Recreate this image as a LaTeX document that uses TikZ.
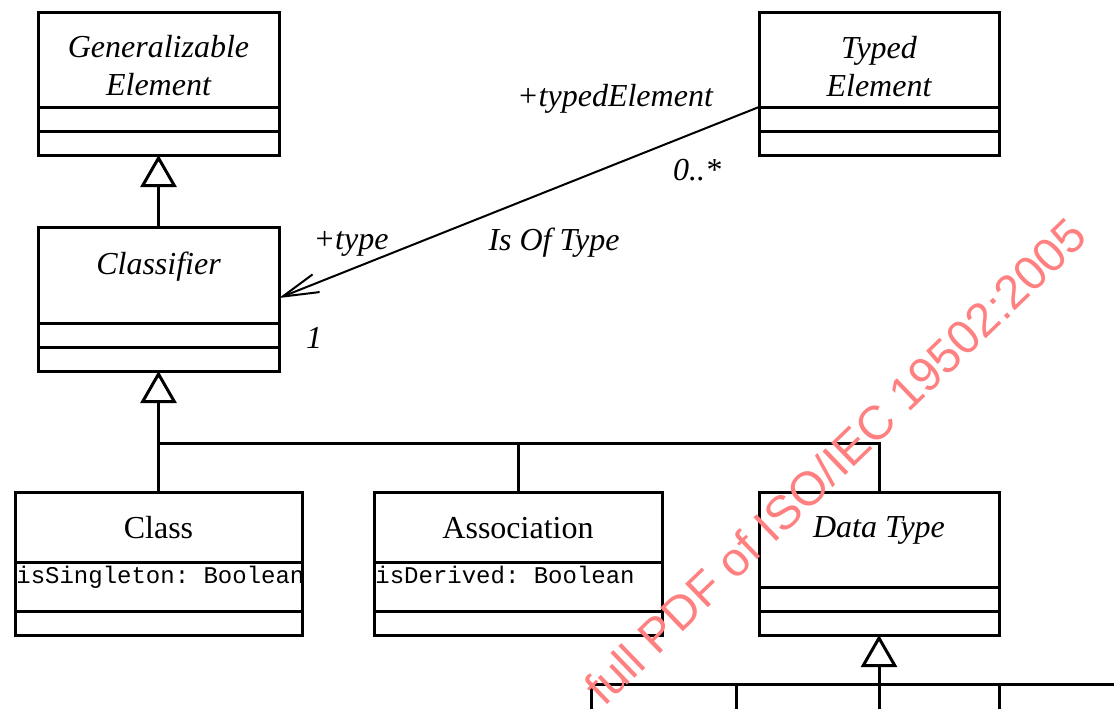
\documentclass[tikz,border=0pt]{standalone}
\usepackage{fontspec}
\setmainfont{Liberation Serif}
\setsansfont{Liberation Sans}
\setmonofont{Liberation Mono}
\usetikzlibrary{arrows.meta,positioning,calc}
\definecolor{umlblack}{RGB}{0,0,0}
\definecolor{stampred}{RGB}{255,128,128}

\begin{document}
\begin{tikzpicture}[
  x=0.5pt, y=-0.5pt,
  node distance=0pt,
  classbox/.style={
    draw=umlblack,
    line width=1.5pt,
    outer sep=0pt,
    inner sep=0pt
  },
  compart/.style={classbox, minimum height=12pt},
  cname/.style={font=\fontsize{16}{19}\selectfont\itshape, align=center},
  cplain/.style={font=\fontsize{16}{19}\selectfont},
  attr/.style={font=\fontsize{12}{14}\selectfont\ttfamily, anchor=north west, inner sep=0pt},
  role/.style={font=\fontsize{16}{19}\selectfont\itshape},
  gen/.style={-{Triangle[open, length=16pt, width=18pt]}, line width=1.5pt, draw=umlblack},
  line/.style={line width=1.5pt, draw=umlblack},
  assoc/.style={-{Straight Barb[length=18pt, width=9.5pt]}, line width=1pt, draw=umlblack},
  stamp/.style={font=\fontsize{23.8}{28}\selectfont\sffamily, text=stampred, inner sep=0pt}
]
\useasboundingbox (0,0) rectangle (1114,708);
\clip (0,0) rectangle (1114,708);

% Generalizable Element
\node[classbox, minimum width=120.5pt, minimum height=47.5pt] (ge) at (158.5,59.5) {};
\node[compart, minimum width=120.5pt, below=of ge] (ge-a) {};
\node[compart, minimum width=120.5pt, below=of ge-a] (ge-o) {};
\node[cname] (ge-name) at (158.5,66) {Generalizable\\Element};

% Classifier
\node[classbox, minimum width=120.5pt, minimum height=48pt] (cf) at (158.5,275) {};
\node[compart, minimum width=120.5pt, below=of cf] (cf-a) {};
\node[compart, minimum width=120.5pt, below=of cf-a] (cf-o) {};
\node[cname] (cf-name) at (158.5,267) {Classifier};
\draw[gen] (cf.north) -- (ge-o.south);

% Typed Element
\node[classbox, minimum width=120pt, minimum height=47.5pt] (te) at (879,59.5) {};
\node[compart, minimum width=120pt, below=of te] (te-a) {};
\node[compart, minimum width=120pt, below=of te-a] (te-o) {};
\node[cname] (te-name) at (879,67) {Typed\\Element};

% Is Of Type association
\coordinate (cf-end) at ($(cf.east)+(0,23)$);
\draw[assoc] (te.south west) -- (cf-end);
\node[role] (te-role) at (615,99) {+typedElement};
\node[role] (te-mult) at (697,170) {0..*};
\node[role] (cf-role) at (351,244) {+type};
\node[role] (cf-mult) at (314,338) {1};
\node[role] (assoc-name) at (554,243) {Is Of Type};

% Class
\node[classbox, minimum width=143.5pt, minimum height=35pt] (cl) at (158.5,527) {};
\node[classbox, minimum width=143.5pt, minimum height=24.5pt, below=of cl] (cl-a) {};
\node[compart, minimum width=143.5pt, below=of cl-a] (cl-o) {};
\node[cplain] (cl-name) at (158.5,528) {Class};
\node[attr] (cl-attr) at ($(cl-a.north west)+(1,4)$) {isSingleton: Boolean};

% Association
\node[classbox, minimum width=144pt, minimum height=35pt] (as) at (518,527) {};
\node[classbox, minimum width=144pt, minimum height=24.5pt, below=of as] (as-a) {};
\node[compart, minimum width=144pt, below=of as-a] (as-o) {};
\node[cplain] (as-name) at (518,528) {Association};
\node[attr] (as-attr) at ($(as-a.north west)+(1,4)$) {isDerived: Boolean};

% Data Type
\node[classbox, minimum width=120pt, minimum height=47.5pt] (dt) at (879,539.5) {};
\node[compart, minimum width=120pt, below=of dt] (dt-a) {};
\node[compart, minimum width=120pt, below=of dt-a] (dt-o) {};
\node[cname] (dt-name) at (879,530) {Data Type};

% Classifier subtypes
\coordinate (bus1) at (158.5,443);
\draw[gen] (bus1) -- (cf-o.south);
\draw[line] (cl.north) -- (bus1) -| (dt.north);
\draw[line] (as.north) -- (as.north |- bus1);

% Data Type subtypes (cut off)
\coordinate (bus2) at (879,684);
\coordinate (sub1) at (591,720);
\coordinate (sub2) at (736,720);
\coordinate (sub3) at (879,720);
\coordinate (sub4) at (999,720);
\coordinate (bus2-end) at (1130,684);
\draw[gen] (bus2) -- (dt-o.south);
\draw[line] (sub1) |- (bus2-end);
\draw[line] (sub2) -- (sub2 |- bus2);
\draw[line] (sub3) -- (bus2);
\draw[line] (sub4) -- (sub4 |- bus2);

% Stamp
\node[stamp, rotate=44, anchor=base east] (stamp-text) at (1090,239) {full PDF of ISO/IEC 19502:2005};

\end{tikzpicture}
\end{document}
